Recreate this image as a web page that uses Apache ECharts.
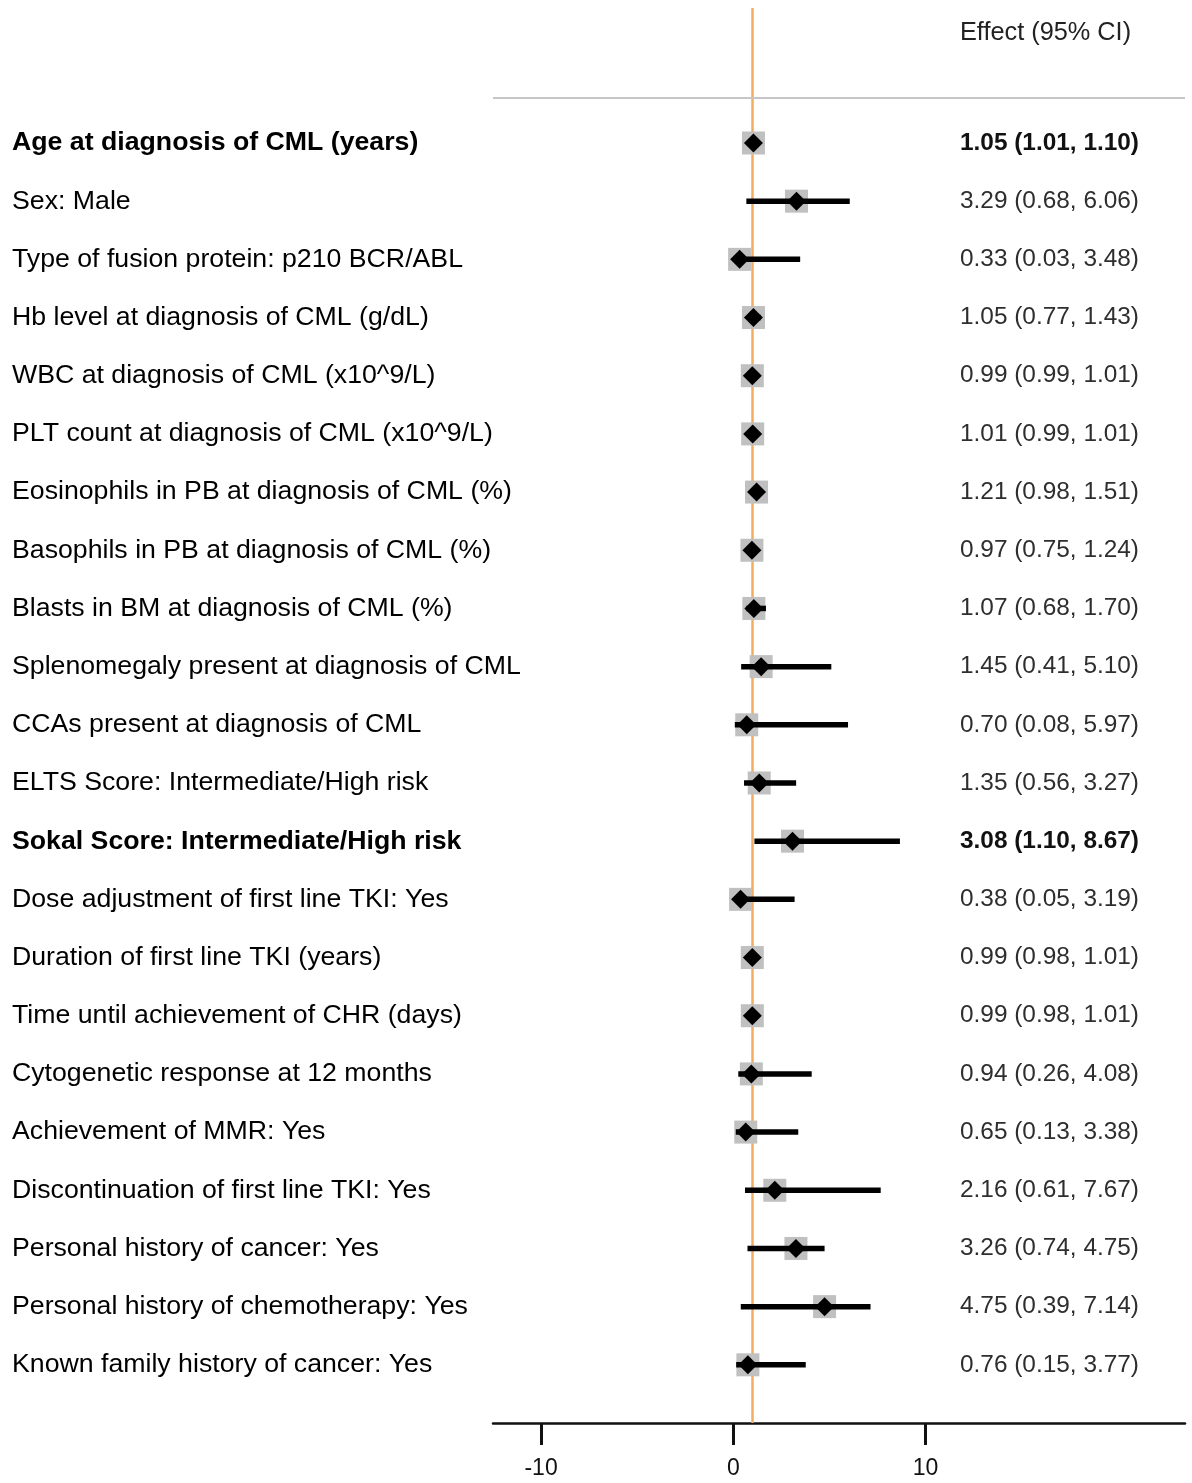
<!DOCTYPE html>
<html>
<head>
<meta charset="utf-8">
<script src="https://cdn.jsdelivr.net/npm/echarts@6/dist/echarts.min.js"></script>
<style>
html,body{margin:0;padding:0;background:#fff;}
#chart{width:1192px;height:1483px;}
</style>
</head>
<body>
<div id="chart"></div>
<script>
const categories = [
  "Age at diagnosis of CML (years)",
  "Sex: Male",
  "Type of fusion protein: p210 BCR/ABL",
  "Hb level at diagnosis of CML (g/dL)",
  "WBC at diagnosis of CML (x10^9/L)",
  "PLT count at diagnosis of CML (x10^9/L)",
  "Eosinophils in PB at diagnosis of CML (%)",
  "Basophils in PB at diagnosis of CML (%)",
  "Blasts in BM at diagnosis of CML (%)",
  "Splenomegaly present at diagnosis of CML",
  "CCAs present at diagnosis of CML",
  "ELTS Score: Intermediate/High risk",
  "Sokal Score: Intermediate/High risk",
  "Dose adjustment of first line TKI: Yes",
  "Duration of first line TKI (years)",
  "Time until achievement of CHR (days)",
  "Cytogenetic response at 12 months",
  "Achievement of MMR: Yes",
  "Discontinuation of first line TKI: Yes",
  "Personal history of cancer: Yes",
  "Personal history of chemotherapy: Yes",
  "Known family history of cancer: Yes"
];
const estimates = [1.05,3.29,0.33,1.05,0.99,1.01,1.21,0.97,1.07,1.45,0.70,1.35,3.08,0.38,0.99,0.99,0.94,0.65,2.16,3.26,4.75,0.76];
const lower     = [1.01,0.68,0.03,0.77,0.99,0.99,0.98,0.75,0.68,0.41,0.08,0.56,1.10,0.05,0.98,0.98,0.26,0.13,0.61,0.74,0.39,0.15];
const upper     = [1.10,6.06,3.48,1.43,1.01,1.01,1.51,1.24,1.70,5.10,5.97,3.27,8.67,3.19,1.01,1.01,4.08,3.38,7.67,4.75,7.14,3.77];
const boldRows  = [0,12];
const xTicks    = [-10,0,10];
const refValue  = 1;
const headerText = "Effect (95% CI)";

const rowIdx = categories.map((_, i) => i);
const FONT = "'Liberation Sans', Arial, sans-serif";
const HEADER_POS = -1.89;
const HEADER_LINE = -0.773;

function ciText(i){
  return estimates[i].toFixed(2) + " (" + lower[i].toFixed(2) + ", " + upper[i].toFixed(2) + ")";
}

const chart = echarts.init(document.getElementById('chart'), null, {renderer:'canvas'});
const option = {
  animation: false,
  backgroundColor: '#ffffff',
  grid: {left: 493, right: 7, top: 8, bottom: 60},
  xAxis: {
    type: 'value', min: -12.5, max: 23.5, position: 'bottom',
    axisLine: {show: true, onZero: false, lineStyle: {color: '#111', width: 2.5}},
    axisTick: {show: true, customValues: xTicks, length: 22, lineStyle: {color: '#111', width: 3}},
    axisLabel: {customValues: xTicks, fontSize: 23, color: '#111', fontFamily: FONT, margin: 34},
    splitLine: {show: false}
  },
  yAxis: [
    {
      type: 'value', inverse: true, min: -2.32, max: 22, position: 'left',
      axisLine: {show: false}, axisTick: {show: false}, splitLine: {show: false},
      axisLabel: {
        customValues: rowIdx, align: 'left', margin: 481,
        formatter: v => (boldRows.indexOf(v) >= 0 ? '{b|' : '{n|') + categories[v] + '}',
        rich: {
          n: {fontSize: 26.7, fontFamily: FONT, color: '#000'},
          b: {fontSize: 26.7, fontFamily: FONT, color: '#000', fontWeight: 'bold'}
        }
      }
    },
    {
      type: 'value', inverse: true, min: -2.32, max: 22, position: 'right',
      axisLine: {show: false}, axisTick: {show: false}, splitLine: {show: false},
      axisLabel: {
        inside: true, customValues: [HEADER_POS].concat(rowIdx), align: 'left', margin: 225,
        formatter: v => v === HEADER_POS ? '{h|' + headerText + '}' :
          (boldRows.indexOf(v) >= 0 ? '{b|' : '{n|') + ciText(v) + '}',
        rich: {
          h: {fontSize: 25.3, fontFamily: FONT, color: '#222'},
          n: {fontSize: 24.4, fontFamily: FONT, color: '#2e2e2e'},
          b: {fontSize: 24.4, fontFamily: FONT, color: '#111', fontWeight: 'bold'}
        }
      }
    }
  ],
  series: [
    {
      type: 'scatter', z: 1, data: [], silent: true,
      markLine: {
        silent: true, symbol: 'none', label: {show: false}, z: 1,
        data: [
          {xAxis: refValue, lineStyle: {color: '#f2ad5f', width: 2.5, type: 'solid'}},
          {yAxis: HEADER_LINE, lineStyle: {color: '#c6c6c6', width: 2, type: 'solid'}}
        ]
      }
    },
    {
      type: 'scatter', z: 2, symbol: 'rect', symbolSize: 23,
      itemStyle: {color: '#c0c0c0', opacity: 1},
      data: estimates.map((e, i) => [e, i])
    },
    {
      type: 'custom', z: 3,
      renderItem: function(params, api){
        const p1 = api.coord([api.value(0), api.value(2)]);
        const p2 = api.coord([api.value(1), api.value(2)]);
        return {type: 'line', shape: {x1: p1[0], y1: p1[1], x2: p2[0], y2: p2[1]},
                style: {stroke: '#000', lineWidth: 5.5}};
      },
      data: lower.map((l, i) => [l, upper[i], i])
    },
    {
      type: 'scatter', z: 4, symbol: 'diamond', symbolSize: [19, 19],
      itemStyle: {color: '#000', opacity: 1},
      data: estimates.map((e, i) => [e, i])
    }
  ]
};
chart.setOption(option);
</script>
</body>
</html>
